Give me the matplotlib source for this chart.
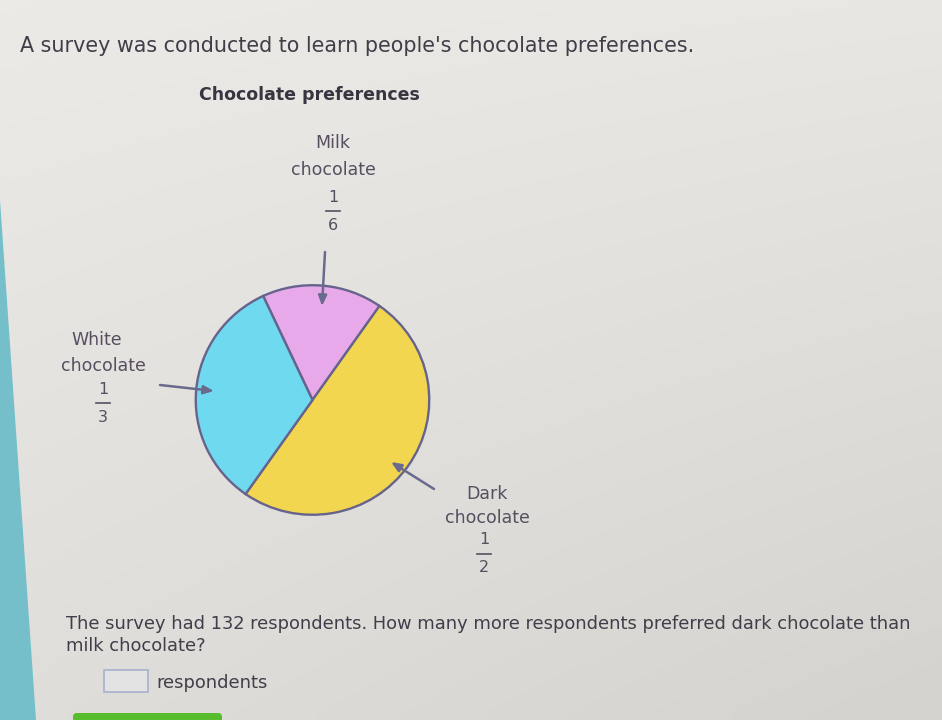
import numpy as np
import matplotlib
matplotlib.use("Agg")
import matplotlib.pyplot as plt
from matplotlib.patches import Polygon, Rectangle, FancyBboxPatch

# ---------------- data ----------------
categories = ["Milk chocolate", "Dark chocolate", "White chocolate"]
fractions = [1/6, 1/2, 1/3]
fraction_labels = [("1", "6"), ("1", "2"), ("1", "3")]
slice_colors = ["#e8a9ea", "#f3d64f", "#6fd9ef"]
intro_text = "A survey was conducted to learn people's chocolate preferences."
chart_title = "Chocolate preferences"
question_lines = ["The survey had 132 respondents. How many more respondents preferred dark chocolate than",
                  "milk chocolate?"]
answer_unit = "respondents"

W, H = 942, 720
fig = plt.figure(figsize=(W / 100, H / 100), dpi=100)

# background axes in pixel coordinates (y downwards)
bg = fig.add_axes([0, 0, 1, 1])
bg.set_xlim(0, W)
bg.set_ylim(H, 0)
bg.axis("off")

# soft photographic gradient background
yy, xx = np.mgrid[0:1:60j, 0:1:80j]
c_light = np.array([0.925, 0.918, 0.905])
c_dark = np.array([0.835, 0.830, 0.815])
t = np.clip(0.55 * yy + 0.35 * xx * yy + 0.15 * xx, 0, 1)[..., None]
img = c_light * (1 - t) + c_dark * t
bg.imshow(img, extent=[0, W, H, 0], aspect="auto", zorder=0, interpolation="bilinear")

# teal wedge at left edge and green button
bg.add_patch(Polygon([[0, 200], [36, 720], [0, 720]], closed=True,
                     facecolor="#74bfc9", edgecolor="none", zorder=1))
bg.add_patch(FancyBboxPatch((73, 713), 149, 12, boxstyle="round,pad=0,rounding_size=4",
                            facecolor="#58bd2c", edgecolor="none", zorder=1))

txt = "#423d48"
lab = "#574f60"
fam = "DejaVu Sans"

bg.text(20, 46, intro_text, fontsize=14.9, color=txt, va="center", ha="left", family=fam, zorder=3)
bg.text(309, 95, chart_title, fontsize=12.5, color="#3a3440", fontweight="bold",
        va="center", ha="center", family=fam, zorder=3)

# slice labels
def label(x, lines, fx, fy, frac):
    for (ly, s, dx) in lines:
        bg.text(x + dx, ly, s, fontsize=12.5, color=lab, ha="center", va="center", family=fam, zorder=3)
    num, den = frac
    bg.text(fx, fy, num, fontsize=11.5, color=lab, ha="center", va="center", family=fam, zorder=3)
    bg.plot([fx - 7, fx + 7], [fy + 14, fy + 14], color=lab, lw=1.2, zorder=3)
    bg.text(fx, fy + 28, den, fontsize=11.5, color=lab, ha="center", va="center", family=fam, zorder=3)

label(333, [(143, "Milk", 0), (170, "chocolate", 0)], 333, 197, fraction_labels[0])
label(103, [(340, "White", -6), (366, "chocolate", 0)], 103, 389, fraction_labels[2])
label(487, [(494, "Dark", 0), (518, "chocolate", 0)], 484, 540, fraction_labels[1])

# pie chart (slightly elliptical as in the photographed screen)
cx, cy, rx, ry = 312.5, 400, 118.5, 116.5
pax = fig.add_axes([(cx - rx) / W, (H - cy - ry) / H, 2 * rx / W, 2 * ry / H])
pax.pie(fractions, colors=slice_colors, startangle=115, counterclock=False,
        wedgeprops=dict(edgecolor="#66638c", linewidth=1.7))
pax.set_xlim(-1.015, 1.015)
pax.set_ylim(-1.015, 1.015)
pax.set_aspect("auto")
pax.axis("off")

# arrows (drawn on top)
top = fig.add_axes([0, 0, 1, 1])
top.set_xlim(0, W)
top.set_ylim(H, 0)
top.axis("off")
arrow_col = "#6a6a8c"
for (x0, y0, x1, y1) in [(325, 252, 322, 306), (160, 385, 214, 391), (434, 489, 391, 462)]:
    top.annotate("", xy=(x1, y1), xytext=(x0, y0),
                 arrowprops=dict(arrowstyle="-|>,head_length=0.6,head_width=0.25",
                                 color=arrow_col, lw=1.8, shrinkA=0, shrinkB=0))

# question text
top.text(66, 624, question_lines[0], fontsize=12.9, color=txt, ha="left", va="center", family=fam)
top.text(66, 646, question_lines[1], fontsize=12.9, color=txt, ha="left", va="center", family=fam)
top.add_patch(Rectangle((104, 670), 44, 22, facecolor="#e4e3e3", edgecolor="#a9b0cc", lw=1.2))
top.text(156, 683, answer_unit, fontsize=12.9, color=txt, ha="left", va="center", family=fam)

fig.savefig("out.png", dpi=100)
